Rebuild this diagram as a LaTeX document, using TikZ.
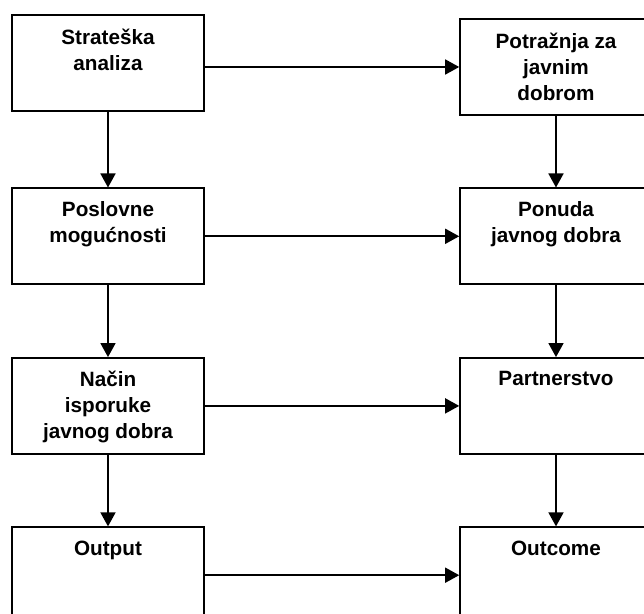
\documentclass[tikz,border=0pt]{standalone}
\usepackage{fontspec}
\setmainfont{Liberation Sans}
\usetikzlibrary{arrows.meta,positioning}

\tikzset{
    stage/.style={
        rectangle, draw, line width=0.8pt,
        minimum width=96pt, minimum height=48pt, inner sep=0pt
    },
    stage text/.style={
        anchor=north, inner sep=0pt, yshift=-7pt, align=center,
        font=\fontsize{10.35}{13}\selectfont\bfseries
    },
    flow/.style={
        -{Triangle[length=7pt,width=7.5pt]}, line width=0.8pt
    },
}

\begin{document}
\begin{tikzpicture}[x=0.5pt, y=-0.5pt]
    \useasboundingbox (0,0) rectangle (644,614);
    \clip (0,0) rectangle (644,614);

    % left column
    \node[stage, label={[stage text]north:{Strateška\\analiza}}] (strat) at (108,63) {};
    \node[stage, below=37.85pt of strat,
          label={[stage text]north:{Poslovne\\mogućnosti}}] (poslovne) {};
    \node[stage, below=36pt of poslovne,
          label={[stage text]north:{Način\\isporuke\\javnog dobra}}] (nacin) {};
    \node[stage, below=35.85pt of nacin,
          label={[stage text]north:{Output}}] (output) {};

    % right column
    \node[stage, label={[stage text]north:{Potražnja za\\javnim\\dobrom}}] (potraznja) at (556,67) {};
    \node[stage, below=35.85pt of potraznja,
          label={[stage text]north:{Ponuda\\javnog dobra}}] (ponuda) {};
    \node[stage, below=36pt of ponuda,
          label={[stage text]north:{Partnerstvo}}] (partner) {};
    \node[stage, below=35.85pt of partner,
          label={[stage text]north:{Outcome}}] (outcome) {};

    % vertical flows
    \draw[flow] (strat) -- (poslovne);
    \draw[flow] (poslovne) -- (nacin);
    \draw[flow] (nacin) -- (output);
    \draw[flow] (potraznja) -- (ponuda);
    \draw[flow] (ponuda) -- (partner);
    \draw[flow] (partner) -- (outcome);

    % horizontal flows
    \draw[flow] (strat.east |- potraznja.west) -- (potraznja.west);
    \draw[flow] (poslovne) -- (ponuda);
    \draw[flow] (nacin) -- (partner);
    \draw[flow] (output) -- (outcome);
\end{tikzpicture}
\end{document}
